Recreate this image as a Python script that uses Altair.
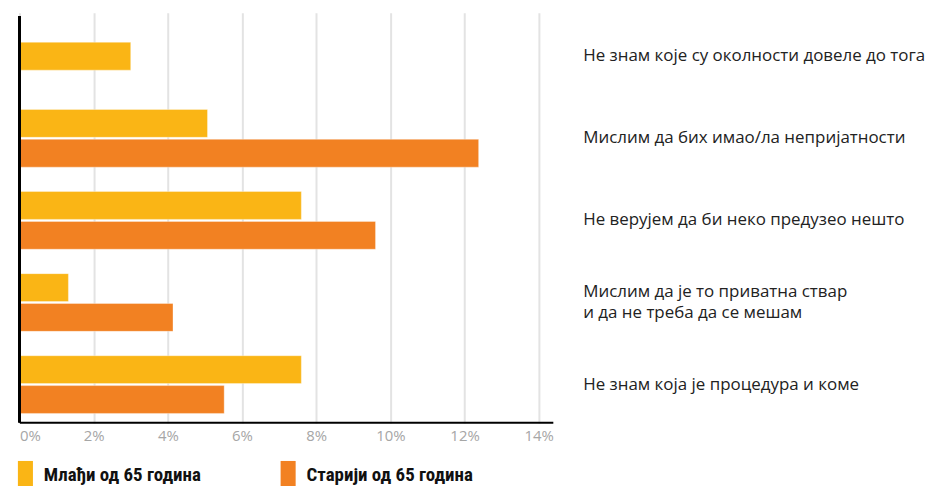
import altair as alt
import pandas as pd

categories = [
    "Не знам које су околности довеле до тога",
    "Мислим да бих имао/ла непријатности",
    "Не верујем да би неко предузео нешто",
    "Мислим да је то приватна ствар\nи да не треба да се мешам",
    "Не знам која је процедура и коме",
]
series = ["Млађи од 65 година", "Старији од 65 година"]
young = [3.0, 5.07, 7.6, 1.32, 7.6]
old = [None, 12.38, 9.6, 4.14, 5.52]
colors = ["#FAB515", "#F28122"]
x_ticks = [0, 2, 4, 6, 8, 10, 12, 14]

rows = []
for c, y, o in zip(categories, young, old):
    both = y is not None and o is not None
    if y is not None:
        rows.append({"cat": c, "series": series[0], "value": y, "off": -1 if both else 0})
    if o is not None:
        rows.append({"cat": c, "series": series[1], "value": o, "off": 1 if both else 0})
df = pd.DataFrame(rows)

H = 408
band = 82.5
half_band = band / 2

x_scale = alt.Scale(domain=[0, 14.38], nice=False, zero=True)
y_scale = alt.Scale(domain=categories, paddingInner=0, paddingOuter=0,
                    range=[-1, -1 + band * len(categories)])

bars = alt.Chart(df).mark_bar(size=28, stroke="white", strokeOpacity=0.35, strokeWidth=1).encode(
    x=alt.X("value:Q", scale=x_scale,
            axis=alt.Axis(values=x_ticks, labelExpr="datum.value + '%'", title=None,
                          grid=True, gridColor="#e3e3e3", gridWidth=2,
                          domain=True, domainColor="black", domainWidth=2,
                          ticks=False, labelColor="#a6a6a6", labelFontSize=15,
                          labelFont="Open Sans", labelPadding=6)),
    y=alt.Y("cat:N", scale=y_scale, sort=categories,
            axis=alt.Axis(orient="right", title=None, domain=False, ticks=False,
                          labelAlign="left", labelPadding=30, labelFontSize=17,
                          labelFont="Open Sans", labelColor="#222222", labelLimit=400,
                          labelLineHeight=21,
                          labelOffset={"condition": {"test": "length(split(datum.value, '\\n')) > 1",
                                                     "value": -10.5},
                                       "value": 0},
                          labelExpr="split(datum.label, '\\n')")),
    yOffset=alt.YOffset("off:Q", scale=alt.Scale(domain=[-1, 1],
                                                 range=[half_band - 15, half_band + 15])),
    color=alt.Color("series:N", scale=alt.Scale(domain=series, range=colors),
                    legend=alt.Legend(title=None, orient="none", direction="horizontal",
                                      legendX=-8, legendY=447,
                                      symbolType="M-0.54,-1H0.54V1H-0.54Z",
                                      symbolSize=784, symbolStrokeWidth=0, symbolOpacity=1,
                                      labelFont="Roboto Condensed, Liberation Sans Narrow, DejaVu Sans Condensed, Roboto",
                                      labelFontWeight="bold",
                                      labelFontSize=19, labelColor="#111111",
                                      labelOffset=4.5, columnPadding=73, labelLimit=300)),
)

left_line = alt.Chart(df).mark_rule(color="black", strokeWidth=2).encode(
    x=alt.datum(0, scale=x_scale)
)

chart = alt.layer(bars, left_line).properties(
    width=536, height=H,
    padding={"left": 3.5, "top": 6, "right": 0, "bottom": 0},
).configure_view(stroke=None)

chart.save("out.html", embed_options={"renderer": "svg", "actions": False})
